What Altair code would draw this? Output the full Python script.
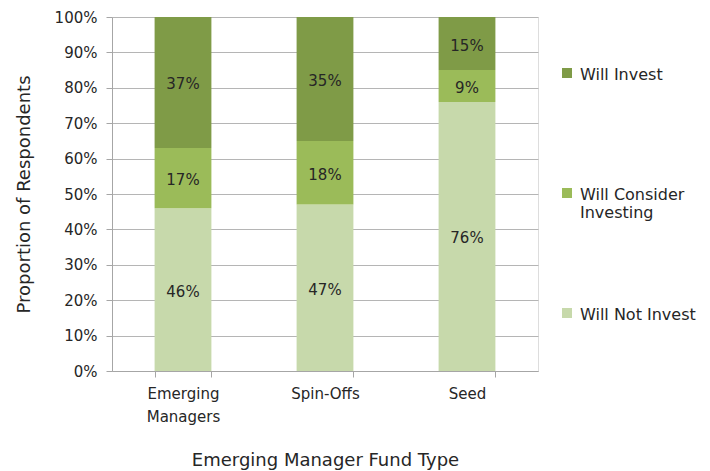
import altair as alt
import pandas as pd

categories = ["Emerging Managers", "Spin-Offs", "Seed"]
series = ["Will Invest", "Will Consider Investing", "Will Not Invest"]
will_not_invest = [46, 47, 76]
will_consider = [17, 18, 9]
will_invest = [37, 35, 15]
colors = ["#7F9B47", "#9BBB59", "#C7D9AB"]
y_ticks = [0, 0.1, 0.2, 0.3, 0.4, 0.5, 0.6, 0.7, 0.8, 0.9, 1.0]

rows = []
for i, c in enumerate(categories):
    for s, vals, order in [("Will Not Invest", will_not_invest, 0),
                           ("Will Consider Investing", will_consider, 1),
                           ("Will Invest", will_invest, 2)]:
        rows.append({"type": c, "series": s, "value": vals[i] / 100.0, "order": order})
df = pd.DataFrame(rows)

FONT = "DejaVu Sans"
TXT = "#262626"
AX = "#A6A6A6"

y_axis = alt.Axis(title="Proportion of Respondents", format=".0%",
                  values=y_ticks, labelOverlap=False,
                  labelFontSize=15, labelColor=TXT, labelPadding=9,
                  titleFontSize=18, titleFontWeight="normal", titleColor=TXT,
                  titlePadding=21,
                  domainColor=AX, tickColor=AX, tickSize=6,
                  gridColor="#B5B5B5", gridWidth=1)

base = alt.Chart(df).encode(
    x=alt.X("type:N", sort=categories,
            scale=alt.Scale(paddingInner=0.6, paddingOuter=0.3),
            axis=alt.Axis(title="Emerging Manager Fund Type", labelAngle=0,
                          labelExpr="split(datum.label, ' ')",
                          labelFontSize=15, labelColor=TXT, labelPadding=9,
                          labelLineHeight=23,
                          titleFontSize=18, titleFontWeight="normal", titleColor=TXT,
                          titlePadding=27,
                          domainColor=AX, tickColor=AX, tickSize=6,
                          tickBand="extent", grid=False)),
)

bars = base.mark_bar().encode(
    y=alt.Y("value:Q", stack="zero", scale=alt.Scale(domain=[0, 1]), axis=y_axis),
    color=alt.Color("series:N",
                    scale=alt.Scale(domain=series, range=colors),
                    legend=alt.Legend(title=None, orient="none", legendX=447, legendY=42,
                                      symbolType="M-1,0.2H1V2.2H-1Z", symbolSize=100,
                                      symbolStrokeWidth=0, labelFontSize=16,
                                      labelColor=TXT, labelFont=FONT,
                                      labelExpr="datum.label == 'Will Consider Investing' ? ['Will Consider', 'Investing'] : [datum.label, '']",
                                      labelLimit=200, rowPadding=78,
                                      labelBaseline="top", labelOffset=5)),
    order=alt.Order("order:Q"),
)

text = base.mark_text(fontSize=15, color=TXT, font=FONT, dy=2).encode(
    y=alt.Y("value:Q", stack="zero", bandPosition=0.5, axis=y_axis),
    text=alt.Text("value:Q", format=".0%"),
    order=alt.Order("order:Q"),
)

chart = alt.layer(bars, text).properties(
    width=426, height=354,
    autosize=alt.AutoSizeParams(type="none"),
    padding={"left": 104, "top": 9, "right": 160, "bottom": 100},
).configure_view(stroke=None).configure(font=FONT)

chart.save("out.html", embed_options={"renderer": "svg", "actions": False})
